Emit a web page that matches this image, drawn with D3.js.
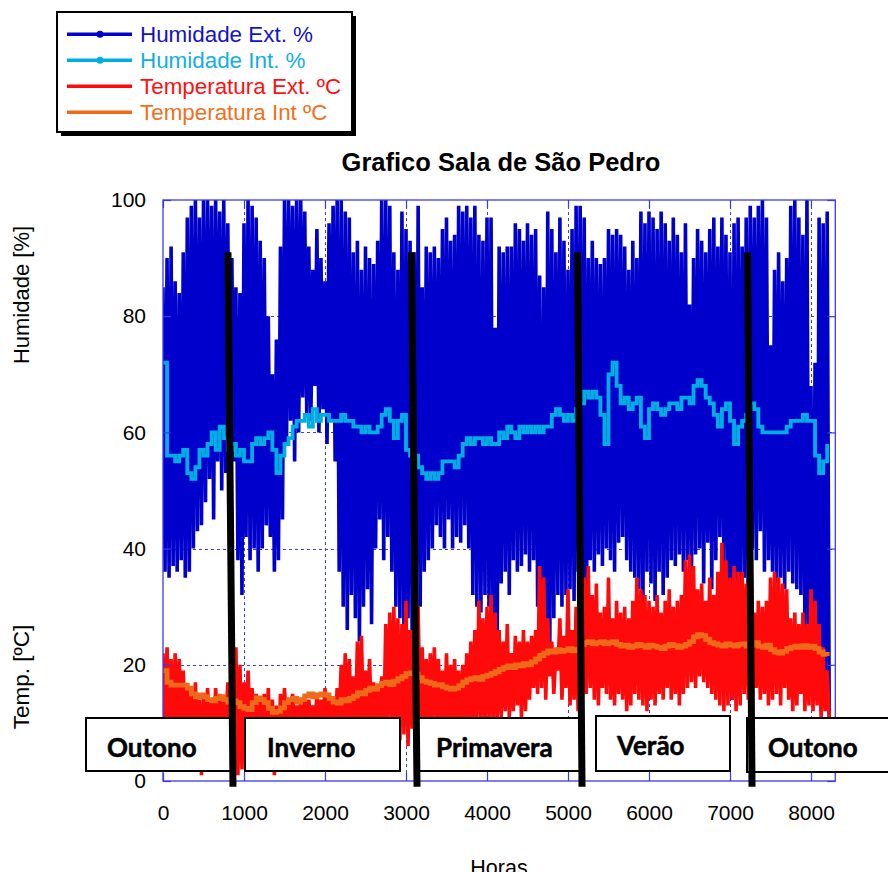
<!DOCTYPE html>
<html>
<head>
<meta charset="utf-8">
<script src="https://cdn.jsdelivr.net/npm/d3@7"></script>
<style>
  body { margin: 0; background: #fff; }
  svg { display: block; }
</style>
</head>
<body>
<svg id="chart" width="888" height="872"></svg>
<script>
// Hourly records summarised every 50 h: daily peak / trough of the outdoor series,
// running level of the indoor series.
const STEP = 50;

const humExtMax = [
  85, 90, 92, 86, 84, 91, 97, 99, 100, 97,
  100, 100, 99, 100, 98, 100, 96, 90, 85, 84,
  96, 100, 99, 97, 93, 90, 80, 70, 76, 92,
  100, 100, 99, 100, 100, 98, 92, 88, 95, 90,
  86, 96, 99, 100, 100, 98, 97, 91, 93, 88,
  92, 90, 89, 93, 100, 100, 99, 91, 88, 98,
  95, 93, 91, 99, 85, 92, 91, 92, 90, 95,
  97, 93, 94, 99, 98, 99, 97, 99, 94, 93,
  97, 97, 78, 92, 91, 92, 92, 96, 95, 93,
  96, 94, 95, 87, 85, 98, 95, 91, 97, 93,
  88, 95, 99, 99, 97, 90, 93, 90, 89, 90,
  95, 94, 95, 94, 92, 88, 93, 90, 98, 96,
  98, 97, 95, 98, 96, 93, 97, 94, 91, 96,
  82, 90, 95, 93, 91, 95, 97, 92, 97, 94,
  91, 96, 97, 92, 97, 99, 97, 99, 100, 97,
  75, 88, 91, 86, 90, 99, 100, 97, 94, 100,
  68, 72, 97, 96, 98
];
const humExtMin = [
  36, 35, 37, 36, 38, 35, 36, 40, 43, 44,
  48, 52, 45, 55, 50, 53, 52, 55, 38, 32,
  42, 38, 40, 36, 40, 44, 42, 36, 38, 45,
  58, 62, 55, 60, 66, 63, 62, 68, 60, 64,
  58, 62, 55, 36, 30, 26, 32, 28, 24, 30,
  33, 27, 40, 45, 38, 42, 36, 30, 28, 24,
  28, 26, 32, 30, 36, 38, 40, 44, 42, 40,
  45, 40, 42, 41, 44, 40, 32, 30, 29, 32,
  30, 25, 22, 34, 36, 32, 38, 36, 37, 39,
  36, 38, 30, 20, 17, 22, 28, 32, 30, 32,
  33, 31, 36, 30, 20, 38, 36, 39, 37, 40,
  38, 36, 41, 42, 38, 36, 35, 33, 30, 36,
  34, 31, 36, 32, 35, 38, 37, 39, 36, 38,
  36, 39, 40, 34, 41, 33, 38, 42, 36, 34,
  14, 20, 33, 35, 28, 40, 38, 43, 36, 38,
  36, 34, 35, 33, 36, 34, 33, 32, 25, 18,
  16, 14, 12, 15, 11
];
const humInt = [
  72, 56, 56, 55, 56, 57, 53, 52, 54, 57,
  56, 58, 60, 57, 61, 59, 57, 58, 56, 57,
  55, 55, 58, 59, 58, 59, 60, 57, 53, 56,
  58, 59, 61, 62, 62, 63, 61, 64, 62, 63,
  63, 62, 62, 62, 63, 62, 62, 61, 61, 60,
  61, 60, 60, 61, 63, 64, 62, 59, 62, 63,
  57, 56, 56, 54, 53, 52, 53, 52, 53, 55,
  55, 55, 54, 56, 58, 59, 58, 59, 59, 58,
  59, 58, 58, 60, 59, 61, 60, 59, 61, 60,
  61, 60, 61, 60, 61, 61, 63, 64, 63, 62,
  63, 62, 64, 65, 67, 66, 67, 66, 63, 58,
  70, 72, 68, 65, 66, 64, 65, 66, 61, 59,
  64, 65, 64, 63, 64, 65, 65, 64, 66, 66,
  65, 68, 69, 68, 66, 65, 63, 61, 64, 65,
  62, 58, 61, 62, 63, 65, 64, 61, 60, 60,
  60, 60, 60, 60, 61, 62, 62, 62, 63, 62,
  62, 56, 53, 55, 58
];
const tempExtMax = [
  22, 23, 21, 22, 21, 19, 16, 15, 17, 14,
  15, 16, 14, 16, 15, 14, 17, 22, 23, 20,
  17, 19, 16, 15, 14, 15, 16, 14, 13, 15,
  16, 14, 15, 13, 14, 15, 14, 13, 15, 14,
  16, 15, 14, 16, 20, 22, 21, 18, 24, 25,
  19, 21, 17, 16, 18, 27, 29, 30, 28, 27,
  31, 26, 29, 30, 23, 21, 22, 23, 21, 19,
  22, 20, 21, 19, 20, 22, 24, 26, 31, 28,
  30, 32, 29, 26, 24, 27, 22, 25, 24, 26,
  24, 25, 26, 37, 35, 28, 24, 22, 28, 25,
  33, 26, 30, 27, 35, 37, 32, 34, 29, 30,
  35, 28, 31, 29, 30, 28, 31, 35, 33, 32,
  31, 30, 32, 29, 31, 33, 30, 31, 32, 38,
  39, 37, 33, 34, 31, 35, 32, 36, 41, 38,
  35, 37, 36, 36, 34, 33, 29, 31, 30, 31,
  35, 36, 35, 34, 33, 28, 29, 27, 29, 27,
  33, 31, 27, 23, 19
];
const tempExtMin = [
  10, 9, 8, 9, 10, 8, 7, 6, 4, 1,
  8, 9, 7, 8, 6, 9, 5, 2, 1, 2,
  7, 9, 8, 10, 9, 8, 3, 1, 2, 7,
  9, 10, 8, 9, 10, 9, 10, 9, 8, 10,
  9, 10, 9, 10, 9, 8, 10, 9, 10, 9,
  10, 9, 10, 9, 8, 10, 9, 9, 7, 8,
  6, 9, 10, 9, 10, 9, 10, 10, 9, 10,
  9, 10, 10, 9, 10, 10, 9, 10, 10, 9,
  10, 9, 10, 11, 12, 11, 12, 13, 11, 12,
  14, 16, 15, 16, 14, 18, 15, 19, 14, 16,
  13, 14, 12, 13, 15, 16, 14, 13, 16, 15,
  14, 13, 15, 14, 12, 13, 15, 14, 13, 12,
  14, 13, 15, 14, 16, 14, 15, 13, 15, 16,
  17, 16, 18, 17, 16, 15, 14, 13, 12, 13,
  14, 12, 13, 15, 14, 13, 16, 14, 15, 13,
  14, 15, 13, 16, 14, 12, 13, 15, 12, 13,
  12, 13, 11, 12, 11
];
const tempInt = [
  19, 17, 16.5, 16.5, 16.5, 16.5, 16, 15, 14.5, 14.8,
  14.5, 14, 13.8, 14.2, 14.5, 14, 13.6, 13.8, 13.5, 12.8,
  12.5, 12.3, 13.5, 14.3, 14, 13.5, 12.5, 11.8, 12, 12.6,
  13.5, 14, 14.2, 13.6, 14, 14.6, 15, 14.5, 14.8, 15,
  14.8, 14.2, 13.6, 13.4, 14, 13.8, 14.2, 14.6, 15.2, 15,
  15.6, 16, 15.8, 16.4, 16.8, 17, 16.6, 17.2, 17.6, 18,
  18.5, 18.6, 18.4, 17.8, 17.2, 17, 16.8, 16.5, 16.6, 16.2,
  16, 15.8, 16, 16.4, 17, 17.4, 17.6, 17.8, 17.5, 18,
  18.2, 18.5, 18.8, 19.2, 19.5, 19.8, 19.5, 20, 19.8, 20.2,
  20, 20.5, 21, 21.6, 22, 22.4, 22.2, 22.6, 22.3, 22.5,
  22.8, 22.4, 22.6, 23.5, 23.8, 24, 23.6, 23.8, 24, 23.6,
  23.8, 24, 23.5, 23.2, 23.4, 23, 23.2, 23.5, 23.3, 23,
  23.4, 23.2, 23, 22.8, 23.2, 23.5, 23.3, 23, 23.2, 23.5,
  24, 24.8, 25.2, 25, 24.4, 23.8, 23.6, 23.4, 23.2, 23.6,
  23.4, 23.2, 23.5, 23.6, 23.2, 23.4, 23.8, 23.2, 23, 23.4,
  22.6, 22.2, 22, 22.3, 22.8, 23, 23.2, 23, 23.3, 23,
  23.2, 22.8, 22.2, 21.8, 21.5
];

const xTicks = [0, 1000, 2000, 3000, 4000, 5000, 6000, 7000, 8000];
const yTicks = [0, 20, 40, 60, 80, 100];
const gridX = [1000, 2000, 3000, 4000, 5000, 6000, 7000, 8000];
const gridY = [20, 40, 60, 80];

const seriesNames = ["Humidade Ext. %", "Humidade Int. %", "Temperatura Ext. ºC", "Temperatura Int ºC"];
const seasonNames = ["Outono", "Inverno", "Primavera", "Verão", "Outono"];
// season changes, in hours: [at the top of the marker, at its foot]
const seasonBreaks = [[802, 864], [3068, 3136], [5117, 5173], [7216, 7272]];

const title = "Grafico Sala de São Pedro";
const yTitleHum = "Humidade [%]";
const yTitleTemp = "Temp. [ºC]";
const xTitle = "Horas";

// ---------- layout ----------
const W = 888, H = 872;
const plot = { left: 163, right: 835.3, top: 200, bottom: 781 };
const colors = { hExt: "#0000cc", hInt: "#00aee4", tExt: "#ff0a0a", tInt: "#ee6a18", grid: "#3a3ae6" };
const fontMain = "'Liberation Sans', Arial, sans-serif";
const fontSeason = "Lato, 'Open Sans', sans-serif";

const x = d3.scaleLinear().domain([0, 8300]).range([plot.left, plot.right]);
const y = d3.scaleLinear().domain([0, 100]).range([plot.bottom, plot.top]);

const svg = d3.select("#chart");
svg.append("rect").attr("width", W).attr("height", H).attr("fill", "#fff");

svg.append("defs").append("clipPath").attr("id", "plotClip")
  .append("rect")
  .attr("x", plot.left).attr("y", plot.top - 1)
  .attr("width", plot.right - plot.left).attr("height", plot.bottom - plot.top + 1);

// grid
const grid = svg.append("g").attr("stroke", colors.grid).attr("stroke-width", 1)
  .attr("stroke-dasharray", "3,3");
grid.selectAll("line.gx").data(gridX).join("line")
  .attr("x1", d => Math.round(x(d)) + 0.5).attr("x2", d => Math.round(x(d)) + 0.5)
  .attr("y1", plot.top).attr("y2", plot.bottom);
grid.selectAll("line.gy").data(gridY).join("line")
  .attr("y1", d => Math.round(y(d)) + 0.5).attr("y2", d => Math.round(y(d)) + 0.5)
  .attr("x1", plot.left).attr("x2", plot.right);

// series
const data = svg.append("g").attr("clip-path", "url(#plotClip)");
const zigzag = (hi, lo) => hi.flatMap((h, i) => [[i * STEP, h], [i * STEP + STEP / 2, lo[i]]]);
const level = vals => vals.map((v, i) => [i * STEP, v]);
const line = d3.line().x(d => x(d[0])).y(d => y(d[1]));
const stepLine = d3.line().x(d => x(d[0])).y(d => y(d[1])).curve(d3.curveStepAfter);

data.append("path").datum(zigzag(humExtMax, humExtMin))
  .attr("d", line).attr("fill", "none").attr("stroke", colors.hExt)
  .attr("stroke-width", 3.6).attr("stroke-linejoin", "bevel");
data.append("path").datum(level(humInt))
  .attr("d", stepLine).attr("fill", "none").attr("stroke", colors.hInt).attr("stroke-width", 3.8);
data.append("path").datum(zigzag(tempExtMax, tempExtMin))
  .attr("d", line).attr("fill", "none").attr("stroke", colors.tExt)
  .attr("stroke-width", 3.6).attr("stroke-linejoin", "bevel");
data.append("path").datum(level(tempInt))
  .attr("d", stepLine).attr("fill", "none").attr("stroke", colors.tInt).attr("stroke-width", 4.8);

// axes with inward ticks on all four sides
const styleAxis = g => {
  g.select(".domain").remove();
  g.selectAll(".tick line").attr("stroke", colors.grid).attr("stroke-width", 1.2);
  g.selectAll(".tick text").attr("fill", "#000")
    .style("font-family", fontMain).style("font-size", "21px");
};
svg.append("g").attr("transform", `translate(0,${plot.bottom})`)
  .call(d3.axisBottom(x).tickValues(xTicks).tickFormat(d3.format("d")).tickSize(-8).tickPadding(24))
  .call(styleAxis);
svg.append("g").attr("transform", `translate(${plot.left},0)`)
  .call(d3.axisLeft(y).tickValues(yTicks).tickFormat(d3.format("d")).tickSize(-8).tickPadding(17))
  .call(styleAxis);
svg.append("g").attr("transform", `translate(0,${plot.top})`)
  .call(d3.axisTop(x).tickValues(xTicks).tickFormat("").tickSize(-8))
  .call(styleAxis);
svg.append("g").attr("transform", `translate(${plot.right},0)`)
  .call(d3.axisRight(y).tickValues(yTicks).tickFormat("").tickSize(-8))
  .call(styleAxis);

// frame
svg.append("rect")
  .attr("x", plot.left).attr("y", plot.top)
  .attr("width", plot.right - plot.left).attr("height", plot.bottom - plot.top)
  .attr("fill", "none").attr("stroke", colors.grid).attr("stroke-width", 1.3);

// titles
svg.append("text").attr("x", 501).attr("y", 171).attr("text-anchor", "middle")
  .style("font-family", fontMain).style("font-size", "25.5px").style("font-weight", "bold")
  .text(title);
svg.append("text").attr("transform", "translate(29,295) rotate(-90)").attr("text-anchor", "middle")
  .style("font-family", fontMain).style("font-size", "22px").text(yTitleHum);
svg.append("text").attr("transform", "translate(29,677) rotate(-90)").attr("text-anchor", "middle")
  .style("font-family", fontMain).style("font-size", "22.5px").text(yTitleTemp);
svg.append("text").attr("x", 499).attr("y", 875).attr("text-anchor", "middle")
  .style("font-family", fontMain).style("font-size", "21.5px").text(xTitle);

// season label boxes
const seasonBoxes = [
  { x0: 86, x1: 232, y0: 718, y1: 771, tx: 107, ty: 757 },
  { x0: 245, x1: 400, y0: 718, y1: 771, tx: 267, ty: 757 },
  { x0: 416, x1: 582, y0: 718, y1: 771, tx: 436, ty: 757 },
  { x0: 596, x1: 730, y0: 716, y1: 771, tx: 617, ty: 755 },
  { x0: 747, x1: 892, y0: 718, y1: 772, tx: 768, ty: 757 }
];
const sg = svg.append("g");
seasonBoxes.forEach((b, i) => {
  sg.append("rect").attr("x", b.x0).attr("y", b.y0)
    .attr("width", b.x1 - b.x0).attr("height", b.y1 - b.y0)
    .attr("fill", "#fff").attr("stroke", "#000").attr("stroke-width", 2);
  sg.append("text").attr("x", b.tx).attr("y", b.ty)
    .style("font-family", fontSeason).style("font-weight", "bold").style("font-size", "26px")
    .attr("fill", "#000").attr("stroke", "#000").attr("stroke-width", 0.5)
    .text(seasonNames[i]);
});

// season change markers
svg.append("g").selectAll("line").data(seasonBreaks).join("line")
  .attr("x1", d => x(d[0])).attr("y1", y(91))
  .attr("x2", d => x(d[1])).attr("y2", y(-1))
  .attr("stroke", "#000").attr("stroke-width", 7);

// legend
const lg = svg.append("g");
lg.append("rect").attr("x", 61).attr("y", 16).attr("width", 295).attr("height", 120).attr("fill", "#000");
lg.append("rect").attr("x", 57).attr("y", 12).attr("width", 295).attr("height", 120)
  .attr("fill", "#fff").attr("stroke", "#000").attr("stroke-width", 2);
const legendColors = [colors.hExt, colors.hInt, colors.tExt, colors.tInt];
const legendTextColors = ["#1212c8", "#12aee6", "#ff1010", "#f07020"];
const legendMarker = [true, true, false, false];
seriesNames.forEach((name, i) => {
  const ly = 34.3 + i * 26;
  lg.append("line").attr("x1", 67).attr("x2", 132).attr("y1", ly).attr("y2", ly)
    .attr("stroke", legendColors[i]).attr("stroke-width", 3.5);
  if (legendMarker[i]) {
    lg.append("circle").attr("cx", 100).attr("cy", ly).attr("r", 3.5).attr("fill", legendColors[i]);
  }
  lg.append("text").attr("x", 140).attr("y", ly + 8)
    .style("font-family", fontMain).style("font-size", "22.4px")
    .attr("fill", legendTextColors[i]).text(name);
});
</script>
</body>
</html>
